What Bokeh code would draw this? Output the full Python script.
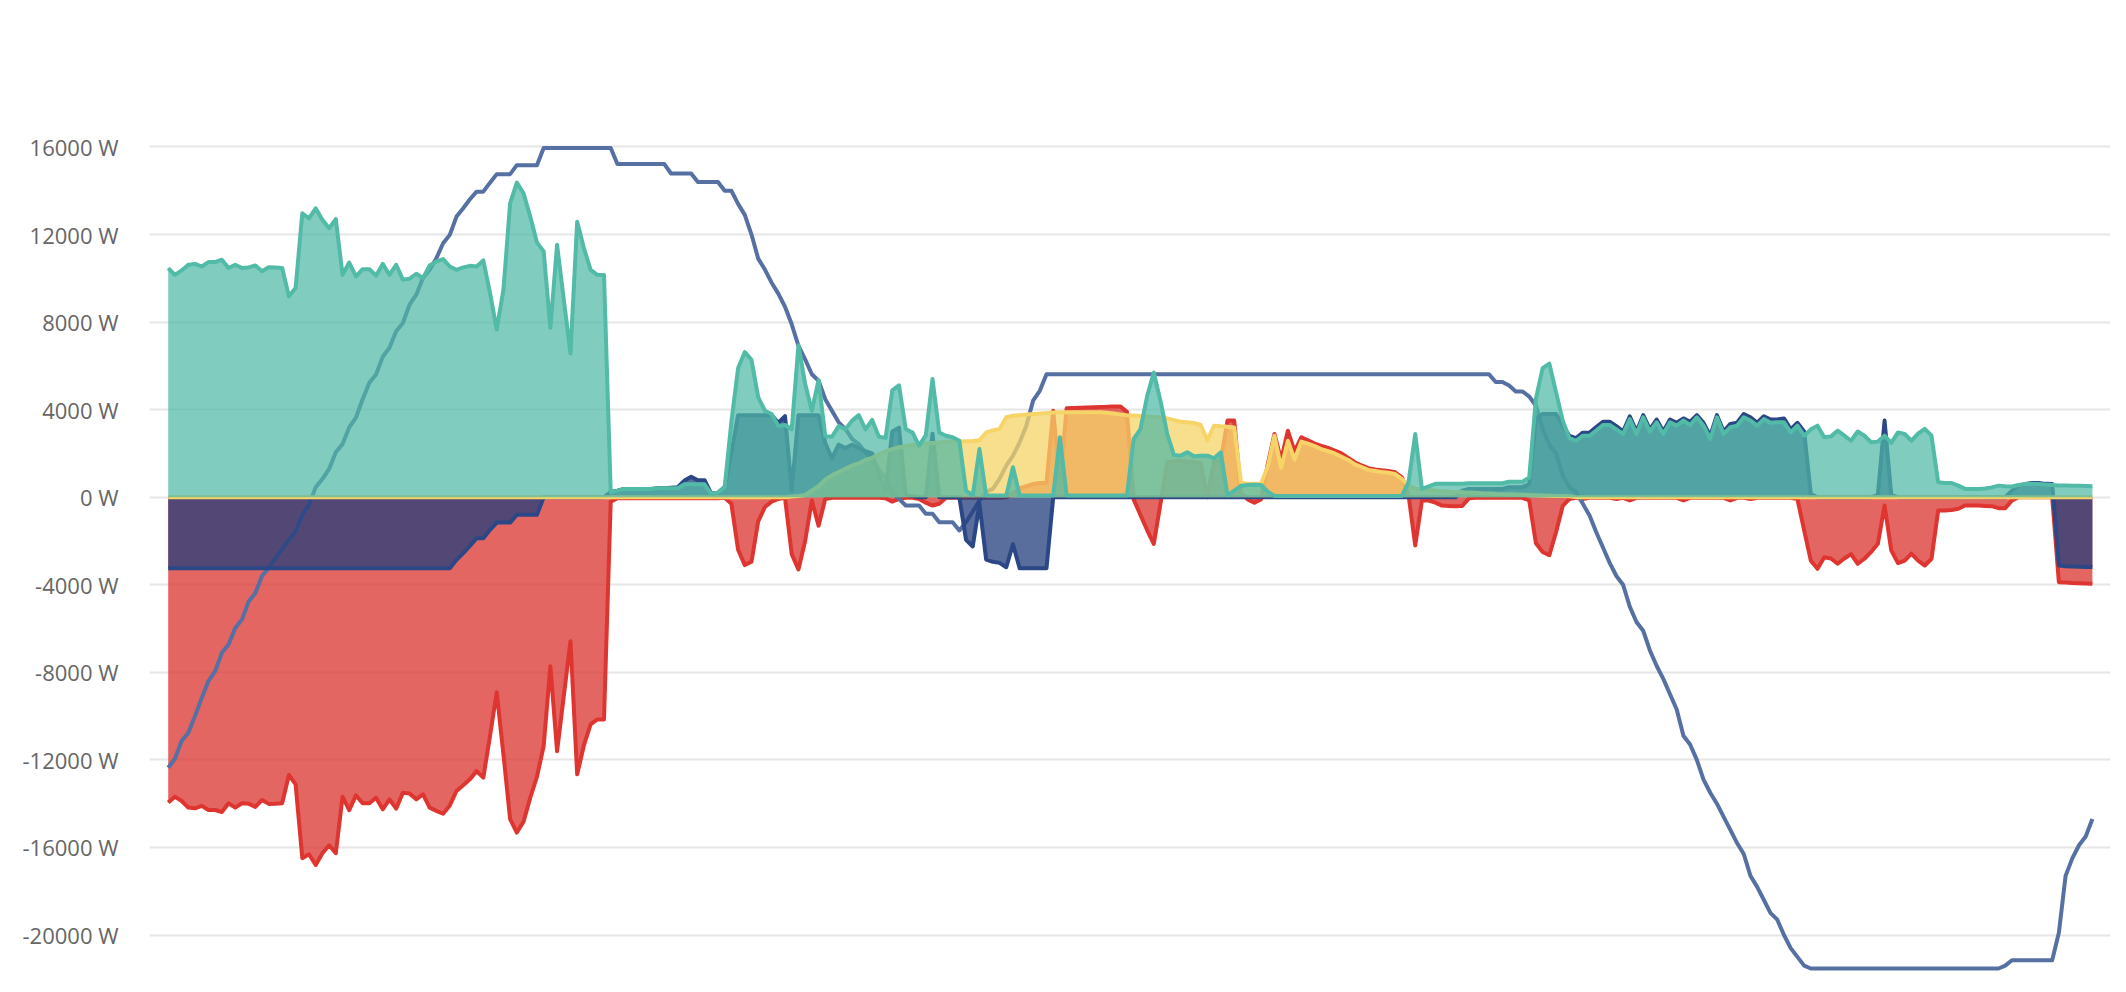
from bokeh.plotting import figure
from bokeh.models import Range1d, FixedTicker, PrintfTickFormatter, ColumnDataSource
from bokeh.embed import file_html
from bokeh.resources import INLINE

# 5-minute samples over one day (288 steps), values in W
consumption = [
    10470, 10160, 10360, 10620, 10660, 10540, 10740, 10740, 10850, 10470,
    10620, 10470, 10500, 10590, 10320, 10510, 10500, 10470, 9180, 9560,
    12970, 12740, 13200, 12670, 12290, 12700, 10160, 10720, 10090, 10420,
    10420, 10120, 10660, 10160, 10620, 9940, 9980, 10210, 10010, 10590,
    10770, 10880, 10540, 10390, 10500, 10570, 10540, 10820, 9330, 7660,
    9480, 13430, 14370, 13880, 12820, 11640, 11230, 7740, 11530, 9030,
    6570, 12590, 11380, 10390, 10160, 10150, 230, 300, 380, 380,
    380, 380, 380, 410, 410, 410, 410, 590, 590, 590,
    590, 155, 200, 465, 3440, 5890, 6630, 6280, 4570, 3950,
    3800, 3250, 3300, 3100, 6940, 5190, 3950, 5350, 2790, 2760,
    3250, 3100, 3500, 3750, 3100, 3530, 2760, 2710, 4880, 5110,
    3120, 2960, 2360, 2840, 5400, 2960, 2810, 2740, 2580, 300,
    80, 2200, 80, 80, 80, 80, 1370, 80, 80, 80,
    80, 80, 80, 2740, 80, 80, 80, 80, 80, 80,
    80, 80, 80, 80, 2660, 3100, 4600, 5700, 4400, 2900,
    1930, 1900, 2050, 1870, 1900, 1900, 1780, 2050, 80, 300,
    520, 560, 570, 560, 250, 60, 60, 60, 60, 60,
    60, 60, 60, 60, 60, 60, 60, 60, 60, 60,
    60, 60, 60, 60, 60, 680, 2890, 380, 500, 610,
    610, 610, 610, 610, 640, 640, 640, 640, 640, 640,
    710, 710, 710, 900, 4500, 5900, 6100, 4800, 3500, 2700,
    2580, 2810, 2810, 3050, 3300, 3300, 3100, 2890, 3570, 2890,
    3650, 3000, 3420, 2890, 3420, 3270, 3500, 3300, 3650, 3270,
    2660, 3650, 2890, 3200, 3270, 3650, 3500, 3270, 3570, 3400,
    3420, 3420, 2960, 3270, 2810, 3100, 3270, 2740, 2780, 3040,
    2810, 2580, 3000, 2810, 2510, 2540, 2810, 2480, 2960, 2890,
    2580, 2900, 3120, 2810, 680, 650, 650, 530, 380, 380,
    380, 400, 450, 530, 500, 490, 560, 600, 620, 600,
    580, 560, 540, 530, 520, 520, 510, 500,
]

grid = [
    -13950, -13680, -13880, -14180, -14210, -14100, -14290, -14290, -14380, -13980,
    -14180, -13980, -14000, -14150, -13830, -14010, -14000, -13980, -12690, -13120,
    -16490, -16310, -16800, -16260, -15900, -16260, -13680, -14300, -13620, -13980,
    -13980, -13730, -14260, -13800, -14230, -13500, -13540, -13800, -13570, -14180,
    -14330, -14460, -14080, -13420, -13160, -12890, -12510, -12810, -10910, -8910,
    -11750, -14710, -15320, -14820, -13730, -12770, -11370, -7720, -11600, -9090,
    -6580, -12660, -11340, -10380, -10150, -10150, -200, -50, -50, -50,
    -50, -50, -50, -50, -50, -50, -50, -50, -50, -50,
    -50, -50, -50, -30, -300, -2400, -3100, -2950, -1100, -450,
    -200, -80, -30, -2600, -3300, -2000, -150, -1300, -80, -30,
    -30, -30, -30, -30, -30, -30, -30, -50, -200, -80,
    -30, -30, -80, -250, -380, -300, -30, -30, -30, -30,
    -30, -30, -30, -30, -30, 0, 200, 400, 500, 600,
    650, 650, 3950, 600, 4060, 4080, 4090, 4100, 4110, 4120,
    4130, 4150, 4150, 3900, -100, -800, -1500, -2130, -300, 1600,
    1650, 1650, 1620, 1600, 1550, 0, 1650, 1700, 3500, 3500,
    200, -100, -250, -100, 1500, 2890, 1700, 3040, 2100, 2740,
    2600, 2450, 2350, 2250, 2130, 2000, 1800, 1600, 1450, 1330,
    1270, 1230, 1200, 1140, 910, 100, -2200, -150, -150, -250,
    -380, -400, -410, -400, -50, -30, -30, -30, -30, -30,
    -30, -30, -30, -150, -2100, -2500, -2650, -1600, -400, -80,
    -30, -80, -30, -30, -30, -30, -80, -30, -150, -30,
    -30, -30, -30, -30, -30, -30, -150, -30, -30, -30,
    -30, -30, -30, -150, -30, -30, -80, -30, -30, -30,
    -30, -30, -30, -80, -1500, -2900, -3270, -2740, -2800, -3040,
    -2800, -2600, -3040, -2810, -2500, -2130, -380, -2430, -3010, -2900,
    -2580, -2900, -3120, -2810, -610, -610, -580, -530, -380, -380,
    -380, -400, -410, -500, -500, -150, 0, 0, 0, 0,
    0, 0, -3880, -3900, -3920, -3930, -3940, -3950,
]

battery = [
    -3240, -3240, -3240, -3240, -3240, -3240, -3240, -3240, -3240, -3240,
    -3240, -3240, -3240, -3240, -3240, -3240, -3240, -3240, -3240, -3240,
    -3240, -3240, -3240, -3240, -3240, -3240, -3240, -3240, -3240, -3240,
    -3240, -3240, -3240, -3240, -3240, -3240, -3240, -3240, -3240, -3240,
    -3240, -3240, -3240, -2860, -2550, -2220, -1870, -1870, -1490, -1160,
    -1160, -1160, -800, -800, -800, -800, 0, 0, 0, 0,
    0, 0, 0, 0, 0, 0, 230, 300, 380, 380,
    380, 380, 380, 410, 410, 430, 456, 760, 930, 775,
    775, 155, 200, 465, 2000, 3750, 3750, 3750, 3750, 3750,
    3750, 3400, 3700, 300, 3750, 3750, 3750, 3750, 2480, 1780,
    2400, 2250, 2400, 2250, 2100, 2000, 1000, 300, 3000, 3180,
    100, 50, 0, 0, 2900, 0, 0, 0, 0, -1950,
    -2250, -300, -2850, -2950, -3000, -3200, -2150, -3250, -3250, -3250,
    -3250, -3250, 0, 0, 0, 0, 0, 0, 0, 0,
    0, 0, 0, 0, 0, 0, 0, 0, 0, 0,
    0, 0, 0, 0, 0, 0, 0, 0, 0, 0,
    0, 0, 0, 0, 0, 0, 0, 0, 0, 0,
    0, 0, 0, 0, 0, 0, 0, 0, 0, 0,
    0, 0, 0, 0, 0, 0, 0, 0, 0, 0,
    0, 0, 0, 300, 380, 380, 380, 380, 380, 380,
    460, 460, 460, 600, 3600, 3800, 3800, 3800, 3300, 2800,
    2700, 2950, 2950, 3200, 3450, 3450, 3250, 3000, 3700, 3000,
    3750, 3100, 3550, 3000, 3550, 3400, 3600, 3450, 3750, 3400,
    2800, 3750, 3000, 3350, 3400, 3800, 3650, 3400, 3700, 3550,
    3550, 3600, 3100, 3400, 3000, 150, 0, 0, 0, 0,
    0, 0, 0, 0, 0, 100, 3500, 100, 0, 0,
    0, 0, 0, 0, 0, 0, 0, 0, 0, 0,
    0, 0, 0, 0, 0, 300, 530, 600, 650, 650,
    610, 600, -3120, -3150, -3170, -3180, -3190, -3190,
]

solar = [
    0, 0, 0, 0, 0, 0, 0, 0, 0, 0,
    0, 0, 0, 0, 0, 0, 0, 0, 0, 0,
    0, 0, 0, 0, 0, 0, 0, 0, 0, 0,
    0, 0, 0, 0, 0, 0, 0, 0, 0, 0,
    0, 0, 0, 0, 0, 0, 0, 0, 0, 0,
    0, 0, 0, 0, 0, 0, 0, 0, 0, 0,
    0, 0, 0, 0, 0, 0, 0, 0, 0, 0,
    0, 0, 0, 0, 0, 0, 0, 0, 0, 0,
    0, 0, 0, 0, 0, 0, 0, 0, 0, 0,
    0, 0, 0, 30, 60, 100, 300, 500, 800, 1000,
    1150, 1300, 1450, 1550, 1700, 1800, 1950, 2100, 2200, 2280,
    2330, 2380, 2420, 2450, 2480, 2500, 2520, 2540, 2550, 2560,
    2570, 2600, 2960, 3050, 3120, 3650, 3720, 3750, 3780, 3800,
    3820, 3850, 3870, 3880, 3880, 3880, 3880, 3880, 3880, 3880,
    3860, 3820, 3780, 3750, 3730, 3710, 3690, 3670, 3650, 3600,
    3520, 3450, 3420, 3390, 3300, 2600, 3270, 3240, 3220, 3190,
    680, 610, 610, 610, 1400, 2810, 1340, 2580, 1720, 2540,
    2450, 2330, 2200, 2100, 2000, 1850, 1700, 1500, 1380, 1250,
    1200, 1150, 1120, 1060, 840, 530, 380, 370, 350, 300,
    270, 250, 240, 230, 210, 200, 180, 170, 150, 140,
    130, 120, 110, 100, 90, 80, 70, 60, 50, 40,
    0, 0, 0, 0, 0, 0, 0, 0, 0, 0,
    0, 0, 0, 0, 0, 0, 0, 0, 0, 0,
    0, 0, 0, 0, 0, 0, 0, 0, 0, 0,
    0, 0, 0, 0, 0, 0, 0, 0, 0, 0,
    0, 0, 0, 0, 0, 0, 0, 0, 0, 0,
    0, 0, 0, 0, 0, 0, 0, 0, 0, 0,
    0, 0, 0, 0, 0, 0, 0, 0, 0, 0,
    0, 0, 0, 0, 0, 0, 0, 0,
]

balance = [
    -12360, -11950, -11140, -10760, -10000, -9170, -8400, -7950, -7110, -6730,
    -5970, -5590, -4760, -4380, -3590, -3240, -2780, -2370, -1950, -1570,
    -800, -350, 455, 830, 1290, 2050, 2430, 3190, 3640, 4475,
    5230, 5610, 6420, 6830, 7585, 7960, 8800, 9250, 10010, 10390,
    10920, 11600, 11985, 12820, 13200, 13610, 13960, 13960, 14370, 14760,
    14760, 14760, 15170, 15170, 15170, 15170, 15950, 15950, 15950, 15950,
    15950, 15950, 15950, 15950, 15950, 15950, 15950, 15220, 15220, 15220,
    15220, 15220, 15220, 15220, 15220, 14790, 14790, 14790, 14790, 14400,
    14400, 14400, 14400, 14000, 14000, 13400, 12900, 12000, 10900, 10400,
    9800, 9300, 8700, 7900, 6920, 6300, 5620, 5320, 4480, 3950,
    3420, 3120, 2660, 2430, 2050, 1750, 1290, 840, 230, -80,
    -380, -380, -380, -760, -760, -1140, -1140, -1140, -1520, -1140,
    -650, -150, 250, 380, 840, 1440, 1900, 2510, 3270, 4410,
    4860, 5620, 5620, 5620, 5620, 5620, 5620, 5620, 5620, 5620,
    5620, 5620, 5620, 5620, 5620, 5620, 5620, 5620, 5620, 5620,
    5620, 5620, 5620, 5620, 5620, 5620, 5620, 5620, 5620, 5620,
    5620, 5620, 5620, 5620, 5620, 5620, 5620, 5620, 5620, 5620,
    5620, 5620, 5620, 5620, 5620, 5620, 5620, 5620, 5620, 5620,
    5620, 5620, 5620, 5620, 5620, 5620, 5620, 5620, 5620, 5620,
    5620, 5620, 5620, 5620, 5620, 5620, 5620, 5620, 5260, 5260,
    5100, 4830, 4830, 4600, 4180, 3120, 2400, 2000, 1000, 450,
    230, -300, -840, -1600, -2300, -3000, -3600, -4000, -5000, -5700,
    -6100, -7000, -7700, -8300, -9000, -9700, -10900, -11300, -12000, -12900,
    -13500, -14000, -14600, -15200, -15800, -16300, -17300, -17800, -18400, -19000,
    -19300, -20000, -20600, -21000, -21400, -21530, -21530, -21530, -21530, -21530,
    -21530, -21530, -21530, -21530, -21530, -21530, -21530, -21530, -21530, -21530,
    -21530, -21530, -21530, -21530, -21530, -21530, -21530, -21530, -21530, -21530,
    -21530, -21530, -21530, -21530, -21400, -21150, -21150, -21150, -21150, -21150,
    -21150, -21150, -19900, -17300, -16500, -15900, -15500, -14700,
]

y_ticks = [-20000, -16000, -12000, -8000, -4000, 0, 4000, 8000, 12000, 16000]

steps = list(range(len(consumption)))
src = ColumnDataSource(dict(x=steps, consumption=consumption, grid=grid,
                            battery=battery, solar=solar, balance=balance))

p = figure(width=2118, height=984, output_backend="svg", toolbar_location=None,
           x_range=Range1d(-2.79, 289.7), y_range=Range1d(-22261, 19951),
           x_axis_location=None,
           min_border_left=149, min_border_right=8, min_border_top=60, min_border_bottom=0)
p.outline_line_color = None
p.background_fill_color = "white"
p.border_fill_color = "white"
p.xgrid.visible = False
p.ygrid.ticker = FixedTicker(ticks=y_ticks)
p.ygrid.grid_line_color = "#e6e6e6"
p.ygrid.grid_line_width = 2

ax = p.yaxis[0]
ax.ticker = FixedTicker(ticks=y_ticks)
ax.formatter = PrintfTickFormatter(format="%d W")
ax.axis_line_color = None
ax.major_tick_line_color = None
ax.minor_tick_line_color = None
ax.major_tick_out = 0
ax.major_tick_in = 0
ax.major_label_standoff = 31
ax.major_label_text_font = "Open Sans"
ax.major_label_text_font_size = "22px"
ax.major_label_text_color = "#666666"

LW = 4
# grid (red)
p.varea(x="x", y1=0, y2="grid", source=src, fill_color="#DA332E", fill_alpha=0.75)
p.line(x="x", y="grid", source=src, line_color="#DF3530", line_width=LW, line_join="round")
# balance line (blue)
p.line(x="x", y="balance", source=src, line_color="#5670A3", line_width=LW, line_join="round")
# battery (navy)
p.varea(x="x", y1=0, y2="battery", source=src, fill_color="#233E7E", fill_alpha=0.75)
p.line(x="x", y="battery", source=src, line_color="#2C4785", line_width=LW, line_join="round")
# solar (yellow)
p.varea(x="x", y1=0, y2="solar", source=src, fill_color="#F6D468", fill_alpha=0.75)
p.line(x="x", y="solar", source=src, line_color="#F6D468", line_width=LW, line_join="round")
# consumption (teal)
p.varea(x="x", y1=0, y2="consumption", source=src, fill_color="#4FB9A5", fill_alpha=0.72)
p.line(x="x", y="consumption", source=src, line_color="#52BBA7", line_width=LW, line_join="round")

open("out.html", "w").write(file_html(p, INLINE))
